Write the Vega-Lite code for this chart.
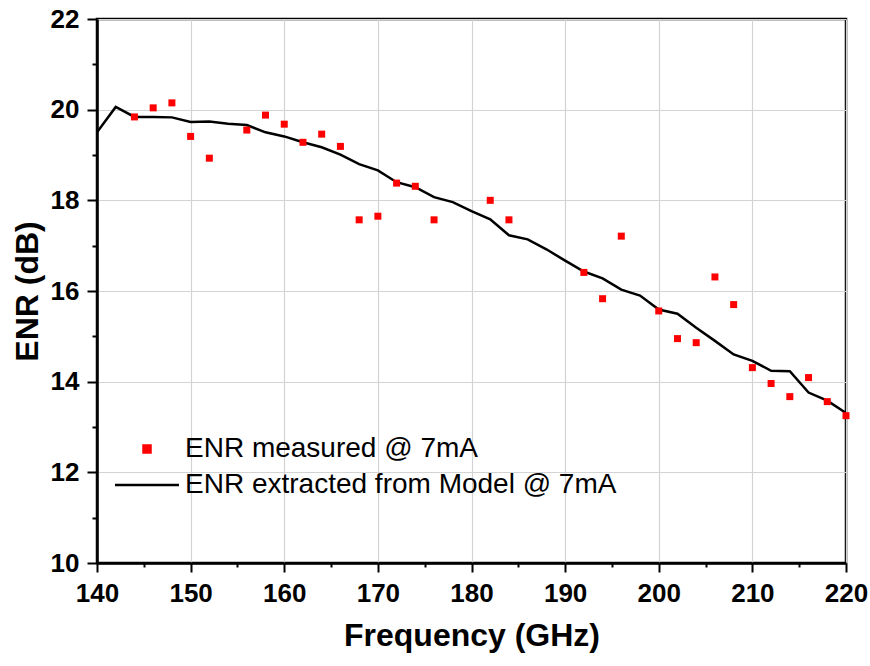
{
  "$schema": "https://vega.github.io/schema/vega-lite/v6.json",
  "width": 749,
  "height": 544,
  "autosize": {"type": "none"},
  "padding": {"left": 97, "top": 19, "right": 24, "bottom": 103},
  "background": "white",
  "config": {
    "font": "Liberation Sans",
    "view": {"stroke": "black", "strokeWidth": 2.5},
    "axis": {
      "labelFont": "Liberation Sans",
      "labelFontWeight": "bold",
      "labelFontSize": 26,
      "labelColor": "black",
      "titleFont": "Liberation Sans",
      "titleFontWeight": "bold",
      "titleFontSize": 32,
      "titleColor": "black",
      "domainColor": "black",
      "domainWidth": 2.5,
      "tickColor": "black",
      "tickWidth": 2,
      "gridColor": "#d3d3d3",
      "gridWidth": 1.2
    },
    "legend": {
      "symbolSize": 49
    }
  },
  "data": {
    "values": [
      {"freq": 144, "enr": 19.84, "series": "ENR measured @ 7mA"},
      {"freq": 146, "enr": 20.04, "series": "ENR measured @ 7mA"},
      {"freq": 148, "enr": 20.15, "series": "ENR measured @ 7mA"},
      {"freq": 150, "enr": 19.41, "series": "ENR measured @ 7mA"},
      {"freq": 152, "enr": 18.93, "series": "ENR measured @ 7mA"},
      {"freq": 156, "enr": 19.55, "series": "ENR measured @ 7mA"},
      {"freq": 158, "enr": 19.88, "series": "ENR measured @ 7mA"},
      {"freq": 160, "enr": 19.68, "series": "ENR measured @ 7mA"},
      {"freq": 162, "enr": 19.28, "series": "ENR measured @ 7mA"},
      {"freq": 164, "enr": 19.46, "series": "ENR measured @ 7mA"},
      {"freq": 166, "enr": 19.19, "series": "ENR measured @ 7mA"},
      {"freq": 168, "enr": 17.57, "series": "ENR measured @ 7mA"},
      {"freq": 170, "enr": 17.65, "series": "ENR measured @ 7mA"},
      {"freq": 172, "enr": 18.38, "series": "ENR measured @ 7mA"},
      {"freq": 174, "enr": 18.31, "series": "ENR measured @ 7mA"},
      {"freq": 176, "enr": 17.57, "series": "ENR measured @ 7mA"},
      {"freq": 182, "enr": 18.0, "series": "ENR measured @ 7mA"},
      {"freq": 184, "enr": 17.57, "series": "ENR measured @ 7mA"},
      {"freq": 192, "enr": 16.41, "series": "ENR measured @ 7mA"},
      {"freq": 194, "enr": 15.83, "series": "ENR measured @ 7mA"},
      {"freq": 196, "enr": 17.21, "series": "ENR measured @ 7mA"},
      {"freq": 200, "enr": 15.56, "series": "ENR measured @ 7mA"},
      {"freq": 202, "enr": 14.95, "series": "ENR measured @ 7mA"},
      {"freq": 204, "enr": 14.86, "series": "ENR measured @ 7mA"},
      {"freq": 206, "enr": 16.31, "series": "ENR measured @ 7mA"},
      {"freq": 208, "enr": 15.70, "series": "ENR measured @ 7mA"},
      {"freq": 210, "enr": 14.31, "series": "ENR measured @ 7mA"},
      {"freq": 212, "enr": 13.96, "series": "ENR measured @ 7mA"},
      {"freq": 214, "enr": 13.67, "series": "ENR measured @ 7mA"},
      {"freq": 216, "enr": 14.09, "series": "ENR measured @ 7mA"},
      {"freq": 218, "enr": 13.56, "series": "ENR measured @ 7mA"},
      {"freq": 220, "enr": 13.25, "series": "ENR measured @ 7mA"},
      {"freq": 140, "enr": 19.50, "series": "ENR extracted from Model @ 7mA"},
      {"freq": 142, "enr": 20.06, "series": "ENR extracted from Model @ 7mA"},
      {"freq": 144, "enr": 19.84, "series": "ENR extracted from Model @ 7mA"},
      {"freq": 146, "enr": 19.84, "series": "ENR extracted from Model @ 7mA"},
      {"freq": 148, "enr": 19.83, "series": "ENR extracted from Model @ 7mA"},
      {"freq": 150, "enr": 19.73, "series": "ENR extracted from Model @ 7mA"},
      {"freq": 152, "enr": 19.74, "series": "ENR extracted from Model @ 7mA"},
      {"freq": 154, "enr": 19.69, "series": "ENR extracted from Model @ 7mA"},
      {"freq": 156, "enr": 19.66, "series": "ENR extracted from Model @ 7mA"},
      {"freq": 158, "enr": 19.50, "series": "ENR extracted from Model @ 7mA"},
      {"freq": 160, "enr": 19.41, "series": "ENR extracted from Model @ 7mA"},
      {"freq": 162, "enr": 19.28, "series": "ENR extracted from Model @ 7mA"},
      {"freq": 164, "enr": 19.17, "series": "ENR extracted from Model @ 7mA"},
      {"freq": 166, "enr": 19.01, "series": "ENR extracted from Model @ 7mA"},
      {"freq": 168, "enr": 18.80, "series": "ENR extracted from Model @ 7mA"},
      {"freq": 170, "enr": 18.66, "series": "ENR extracted from Model @ 7mA"},
      {"freq": 172, "enr": 18.40, "series": "ENR extracted from Model @ 7mA"},
      {"freq": 174, "enr": 18.29, "series": "ENR extracted from Model @ 7mA"},
      {"freq": 176, "enr": 18.07, "series": "ENR extracted from Model @ 7mA"},
      {"freq": 178, "enr": 17.96, "series": "ENR extracted from Model @ 7mA"},
      {"freq": 180, "enr": 17.76, "series": "ENR extracted from Model @ 7mA"},
      {"freq": 182, "enr": 17.58, "series": "ENR extracted from Model @ 7mA"},
      {"freq": 184, "enr": 17.23, "series": "ENR extracted from Model @ 7mA"},
      {"freq": 186, "enr": 17.14, "series": "ENR extracted from Model @ 7mA"},
      {"freq": 188, "enr": 16.92, "series": "ENR extracted from Model @ 7mA"},
      {"freq": 190, "enr": 16.67, "series": "ENR extracted from Model @ 7mA"},
      {"freq": 192, "enr": 16.43, "series": "ENR extracted from Model @ 7mA"},
      {"freq": 194, "enr": 16.28, "series": "ENR extracted from Model @ 7mA"},
      {"freq": 196, "enr": 16.03, "series": "ENR extracted from Model @ 7mA"},
      {"freq": 198, "enr": 15.90, "series": "ENR extracted from Model @ 7mA"},
      {"freq": 200, "enr": 15.59, "series": "ENR extracted from Model @ 7mA"},
      {"freq": 202, "enr": 15.50, "series": "ENR extracted from Model @ 7mA"},
      {"freq": 204, "enr": 15.19, "series": "ENR extracted from Model @ 7mA"},
      {"freq": 206, "enr": 14.90, "series": "ENR extracted from Model @ 7mA"},
      {"freq": 208, "enr": 14.60, "series": "ENR extracted from Model @ 7mA"},
      {"freq": 210, "enr": 14.46, "series": "ENR extracted from Model @ 7mA"},
      {"freq": 212, "enr": 14.24, "series": "ENR extracted from Model @ 7mA"},
      {"freq": 214, "enr": 14.23, "series": "ENR extracted from Model @ 7mA"},
      {"freq": 216, "enr": 13.76, "series": "ENR extracted from Model @ 7mA"},
      {"freq": 218, "enr": 13.58, "series": "ENR extracted from Model @ 7mA"},
      {"freq": 220, "enr": 13.31, "series": "ENR extracted from Model @ 7mA"}
    ]
  },
  "resolve": {"axis": {"x": "independent", "y": "independent"}},
  "encoding": {
    "color": {
      "field": "series",
      "type": "nominal",
      "scale": {
        "domain": ["ENR measured @ 7mA", "ENR extracted from Model @ 7mA"],
        "range": ["#ff0000", "#000000"]
      },
      "legend": {
        "title": null,
        "orient": "none",
        "legendX": 36,
        "legendY": 416,
        "padding": 0,
        "labelFont": "Liberation Sans",
        "labelFontSize": 28,
        "labelColor": "black",
        "labelOffset": 24,
        "labelLimit": 600,
        "rowPadding": 8,
        "symbolStrokeWidth": 2.5,
        "encode": {
          "symbols": {
            "update": {
              "shape": {"signal": "datum.value === 'ENR measured @ 7mA' ? 'square' : 'M-9.14,0H9.14'"},
              "size": {"value": 49},
              "fill": {"signal": "datum.value === 'ENR measured @ 7mA' ? '#ff0000' : 'transparent'"},
              "stroke": {"signal": "datum.value === 'ENR measured @ 7mA' ? 'transparent' : '#000000'"},
              "strokeWidth": {"value": 2.5},
              "opacity": {"value": 1}
            }
          }
        }
      }
    }
  },
  "layer": [
    {
      "transform": [{"filter": "datum.series === 'ENR extracted from Model @ 7mA'"}],
      "mark": {"type": "line", "strokeWidth": 2.5, "clip": true},
      "encoding": {
        "x": {
          "field": "freq",
          "type": "quantitative",
          "title": "Frequency (GHz)",
          "scale": {"domain": [140, 220], "nice": false, "zero": false},
          "axis": {
            "orient": "bottom",
            "values": [140, 150, 160, 170, 180, 190, 200, 210, 220],
            "tickSize": 9,
            "labelPadding": 8,
            "titlePadding": 14,
            "labelFlush": false,
            "labelOverlap": false
          }
        },
        "y": {
          "field": "enr",
          "type": "quantitative",
          "title": "ENR (dB)",
          "scale": {"domain": [10, 22], "nice": false, "zero": false},
          "axis": {
            "orient": "left",
            "values": [10, 12, 14, 16, 18, 20, 22],
            "tickSize": 10,
            "labelPadding": 8,
            "titlePadding": 6,
            "labelFlush": false,
            "labelOverlap": false
          }
        }
      }
    },
    {
      "transform": [{"filter": "datum.series === 'ENR measured @ 7mA'"}],
      "mark": {"type": "point", "shape": "square", "filled": true, "size": 49, "opacity": 1},
      "encoding": {
        "x": {
          "field": "freq",
          "type": "quantitative",
          "scale": {"domain": [140, 220], "nice": false, "zero": false},
          "axis": {
            "orient": "bottom",
            "values": [145, 155, 165, 175, 185, 195, 205, 215],
            "tickSize": 4,
            "labels": false,
            "grid": false,
            "domain": false,
            "title": null
          }
        },
        "y": {
          "field": "enr",
          "type": "quantitative",
          "scale": {"domain": [10, 22], "nice": false, "zero": false},
          "axis": {
            "orient": "left",
            "values": [11, 13, 15, 17, 19, 21],
            "tickSize": 5,
            "labels": false,
            "grid": false,
            "domain": false,
            "title": null
          }
        }
      }
    }
  ]
}
